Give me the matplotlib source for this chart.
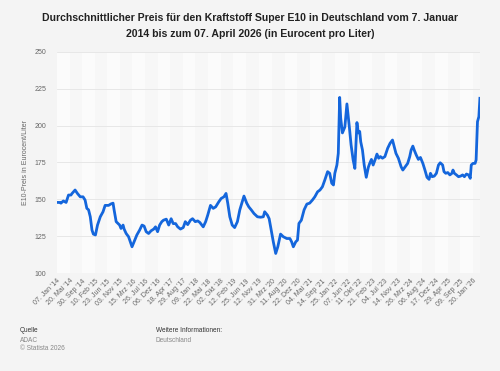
import matplotlib
matplotlib.use("Agg")
import matplotlib.pyplot as plt
import pandas as pd

plt.rcParams["font.family"] = ["Liberation Sans", "DejaVu Sans"]

## Werte (Jahr als Dezimalzahl, Preis in Eurocent/Liter)
years = [
    2014.02, 2014.09, 2014.13, 2014.20, 2014.28, 2014.35, 2014.42, 2014.45, 2014.54, 2014.61,
    2014.69, 2014.77, 2014.83, 2014.88, 2014.93, 2014.98, 2015.03, 2015.07, 2015.13, 2015.19,
    2015.27, 2015.35, 2015.41, 2015.51, 2015.58, 2015.64, 2015.67, 2015.73, 2015.83, 2015.87,
    2015.93, 2015.96, 2016.02, 2016.09, 2016.14, 2016.19, 2016.25, 2016.33, 2016.41, 2016.48,
    2016.54, 2016.60, 2016.67, 2016.74, 2016.82, 2016.87, 2016.93, 2016.99, 2017.05, 2017.10,
    2017.18, 2017.25, 2017.32, 2017.38, 2017.45, 2017.51, 2017.59, 2017.67, 2017.73, 2017.80,
    2017.88, 2017.94, 2018.02, 2018.09, 2018.15, 2018.25, 2018.32, 2018.38, 2018.46, 2018.54,
    2018.61, 2018.70, 2018.77, 2018.85, 2018.91, 2018.96, 2019.02, 2019.09, 2019.16, 2019.24,
    2019.31, 2019.38, 2019.43, 2019.51, 2019.57, 2019.64, 2019.72, 2019.82, 2019.91, 2019.99,
    2020.03, 2020.11, 2020.16, 2020.22, 2020.28, 2020.35, 2020.41, 2020.49, 2020.57, 2020.67,
    2020.76, 2020.81, 2020.86, 2020.93, 2020.98, 2021.02, 2021.09, 2021.17, 2021.25, 2021.33,
    2021.41, 2021.48, 2021.56, 2021.63, 2021.70, 2021.77, 2021.85, 2021.91, 2021.97, 2022.02,
    2022.06, 2022.12, 2022.16, 2022.20, 2022.23, 2022.28, 2022.35, 2022.41, 2022.48, 2022.53,
    2022.59, 2022.64, 2022.70, 2022.74, 2022.78, 2022.81, 2022.86, 2022.91, 2022.97, 2023.03,
    2023.07, 2023.12, 2023.17, 2023.23, 2023.28, 2023.33, 2023.38, 2023.44, 2023.51, 2023.59,
    2023.66, 2023.73, 2023.78, 2023.83, 2023.90, 2023.98, 2024.03, 2024.10, 2024.17, 2024.23,
    2024.27, 2024.32, 2024.36, 2024.42, 2024.48, 2024.54, 2024.61, 2024.67, 2024.73, 2024.79,
    2024.83, 2024.88, 2024.94, 2025.00, 2025.06, 2025.11, 2025.18, 2025.22, 2025.27, 2025.33,
    2025.39, 2025.45, 2025.48, 2025.52, 2025.58, 2025.64, 2025.70, 2025.76, 2025.81, 2025.87,
    2025.93, 2025.98, 2026.01, 2026.06, 2026.12, 2026.15, 2026.19, 2026.23, 2026.26,
]
prices = [
    148.0, 148.0, 147.5, 149.0, 148.0, 153.0, 153.0, 154.0, 156.4, 154.0,
    151.8, 151.8, 149.6, 144.0, 143.0, 138.3, 129.3, 126.6, 126.0, 132.7,
    138.3, 141.7, 146.0, 146.0, 147.0, 147.5, 143.0, 135.0, 132.7, 130.4,
    132.7, 130.0, 127.0, 124.8, 121.4, 118.0, 121.4, 126.0, 129.3, 132.7,
    132.0, 128.2, 127.0, 128.8, 130.0, 131.5, 128.2, 132.7, 135.0, 136.0,
    136.7, 132.7, 137.0, 133.7, 133.7, 131.5, 130.0, 131.0, 135.0, 133.0,
    136.0, 137.0, 135.0, 135.5, 134.5, 131.5, 135.0, 139.4, 146.0, 144.0,
    145.0, 148.4, 150.7, 151.8, 154.1, 147.5, 138.3, 132.7, 131.0, 135.0,
    143.0, 148.4, 152.3, 147.5, 145.0, 143.0, 140.5, 138.3, 138.0, 138.3,
    141.7, 139.4, 137.0, 129.3, 121.4, 113.5, 118.0, 126.6, 124.8, 123.6,
    123.6, 121.4, 118.0, 121.4, 122.5, 133.8, 136.0, 143.0, 146.9, 147.5,
    149.6, 151.8, 155.2, 156.4, 158.6, 163.2, 168.8, 167.7, 161.0, 159.8,
    167.7, 173.3, 181.2, 219.0, 205.0, 195.0, 199.0, 214.6, 199.0, 187.0,
    176.7, 171.0, 202.0, 195.0, 196.0, 189.0, 183.4, 173.3, 165.0, 171.7,
    174.4, 177.1, 173.3, 177.1, 180.7, 177.9, 179.0, 177.9, 179.0, 184.6,
    188.0, 190.2, 185.7, 181.2, 177.9, 172.1, 169.9, 172.1, 174.4, 179.0,
    183.4, 186.1, 183.4, 180.0, 177.1, 178.4, 174.4, 169.9, 165.0, 163.6,
    167.7, 165.4, 165.8, 167.7, 173.3, 174.8, 173.3, 168.8, 167.7, 168.2,
    166.6, 167.7, 169.9, 167.7, 166.6, 165.4, 165.8, 166.6, 165.4, 167.2,
    166.6, 164.3, 173.3, 174.4, 174.4, 176.7, 202.6, 206.0, 218.4,
]

tick_dates = [
    "2014-01-07", "2014-05-20", "2014-09-30", "2015-02-10", "2015-06-23", "2015-11-03",
    "2016-03-15", "2016-07-26", "2016-12-06", "2017-04-18", "2017-08-29", "2018-01-09",
    "2018-05-22", "2018-10-02", "2019-02-12", "2019-06-25", "2019-11-12", "2020-03-31",
    "2020-08-11", "2020-12-22", "2021-05-04", "2021-09-14", "2022-01-25", "2022-06-07",
    "2022-10-11", "2023-02-21", "2023-07-04", "2023-11-14", "2024-03-26", "2024-08-06",
    "2024-12-17", "2025-04-29", "2025-09-09", "2026-01-20",
]
tick_labels = [
    "07. Jan '14", "20. Mai '14", "30. Sep '14", "10. Feb '15", "23. Jun '15", "03. Nov '15",
    "15. Mrz '16", "26. Jul '16", "06. Dez '16", "18. Apr '17", "29. Aug '17", "09. Jan '18",
    "22. Mai '18", "02. Okt '18", "12. Feb '19", "25. Jun '19", "12. Nov '19", "31. Mrz '20",
    "11. Aug '20", "22. Dez '20", "04. Mai '21", "14. Sep '21", "25. Jan '22", "07. Jun '22",
    "11. Okt '22", "21. Feb '23", "04. Jul '23", "14. Nov '23", "26. Mrz '24", "06. Aug '24",
    "17. Dez '24", "29. Apr '25", "09. Sep '25", "20. Jan '26",
]
y_ticks = [100, 125, 150, 175, 200, 225, 250]


def to_date(y):
    year = int(y)
    return pd.Timestamp(year=year, month=1, day=1) + pd.Timedelta(days=(y - year) * 365.25)


dates = [to_date(y) for y in years]
ticks = pd.to_datetime(tick_dates)
x_start = pd.Timestamp("2014-01-07")
x_end = pd.Timestamp("2026-04-07")

bg = "#f4f4f4"
fig = plt.figure(figsize=(5.0, 3.71), dpi=100, facecolor=bg)
ax = fig.add_axes([0.114, 0.263, 0.846, 0.598])
ax.set_facecolor("#f7f7f7")

## alternating column shading
edges = list(ticks) + [x_end]
for i in range(len(edges) - 1):
    if i % 2 == 0:
        ax.axvspan(edges[i], edges[i + 1], color="#fbfbfb", lw=0, zorder=0)

for v in y_ticks:
    ax.axhline(v, color="#e4e4e4", lw=0.6, zorder=1)

ax.plot(dates, prices, color="#1466dc", lw=2.0, solid_joinstyle="round", zorder=3)

ax.set_xlim(x_start, x_end)
ax.set_ylim(100, 250)
ax.set_yticks(y_ticks)
ax.set_yticklabels([str(v) for v in y_ticks])
ax.set_xticks(ticks)
ax.set_xticklabels(tick_labels, rotation=45, ha="right", rotation_mode="anchor")
ax.tick_params(axis="both", length=0, labelsize=5, labelcolor="#666666")
ax.tick_params(axis="y", pad=7.5)
ax.tick_params(axis="x", pad=3)
for s in ax.spines.values():
    s.set_visible(False)

ax.set_ylabel("E10-Preis in Eurocent/Liter", fontsize=5, color="#666666", labelpad=4)

fig.text(0.5, 0.93,
         "Durchschnittlicher Preis für den Kraftstoff Super E10 in Deutschland vom 7. Januar\n"
         "2014 bis zum 07. April 2026 (in Eurocent pro Liter)",
         ha="center", va="center", fontsize=7.6, fontweight="bold", color="#222222",
         linespacing=1.65)

fig.text(0.04, 1 - 331 / 371, "Quelle", fontsize=4.7, color="#333333", va="center")
fig.text(0.04, 1 - 340 / 371, "ADAC", fontsize=4.7, color="#888888", va="center")
fig.text(0.04, 1 - 348.5 / 371, "© Statista 2026", fontsize=4.7, color="#888888", va="center")
fig.text(0.311, 1 - 331 / 371, "Weitere Informationen:", fontsize=4.7, color="#333333", va="center")
fig.text(0.311, 1 - 340 / 371, "Deutschland", fontsize=4.7, color="#888888", va="center")

fig.savefig("out.png", dpi=100, facecolor=bg)
